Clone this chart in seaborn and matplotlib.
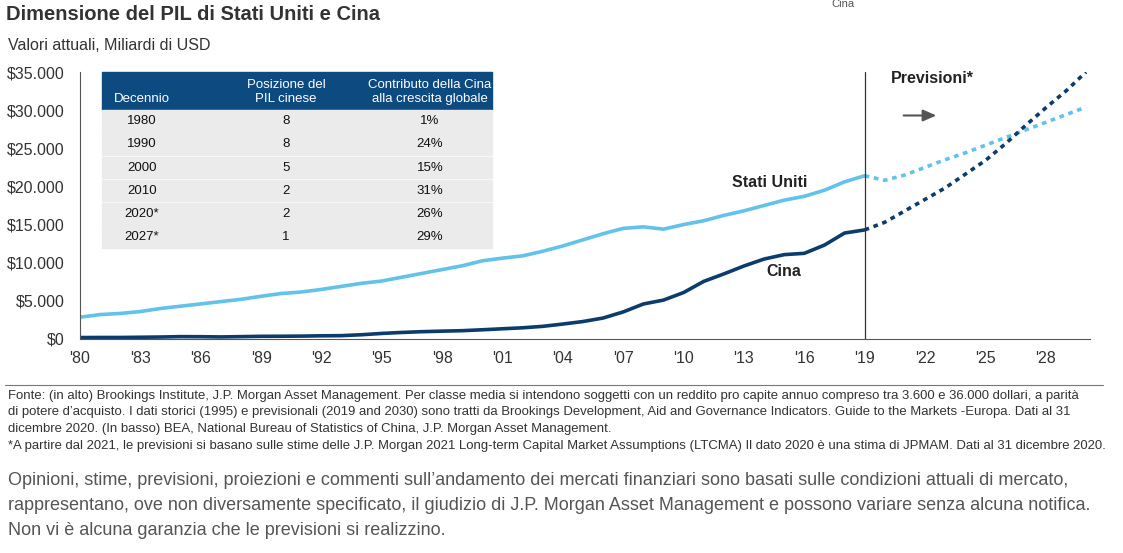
import numpy as np
import pandas as pd
import matplotlib.pyplot as plt
import matplotlib.patches as mpatches
import seaborn as sns

anni = list(range(1980, 2020))
usa = [2.86, 3.2, 3.35, 3.6, 4.0, 4.3, 4.6, 4.9, 5.2, 5.6, 5.96, 6.16, 6.5, 6.9, 7.3, 7.6,
       8.1, 8.6, 9.1, 9.6, 10.25, 10.6, 10.9, 11.5, 12.2, 13.0, 13.8, 14.5, 14.7, 14.4,
       15.0, 15.5, 16.2, 16.8, 17.5, 18.2, 18.7, 19.5, 20.6, 21.4]
cina = [0.19, 0.2, 0.2, 0.23, 0.26, 0.31, 0.3, 0.27, 0.31, 0.35, 0.36, 0.38, 0.42, 0.44,
        0.56, 0.73, 0.86, 0.96, 1.03, 1.09, 1.21, 1.34, 1.47, 1.66, 1.96, 2.29, 2.75, 3.55,
        4.59, 5.1, 6.09, 7.55, 8.53, 9.57, 10.48, 11.06, 11.23, 12.31, 13.89, 14.3]
anni_prev = list(range(2019, 2031))
usa_prev = [21.4, 20.8, 21.5, 22.5, 23.5, 24.4, 25.4, 26.4, 27.4, 28.4, 29.4, 30.4]
cina_prev = [14.3, 15.3, 16.8, 18.3, 19.8, 21.6, 23.4, 25.6, 28.0, 30.3, 32.5, 35.0]

tab_decennio = ["1980", "1990", "2000", "2010", "2020*", "2027*"]
tab_posizione = ["8", "8", "5", "2", "2", "1"]
tab_contributo = ["1%", "24%", "15%", "31%", "26%", "29%"]

C_USA = "#62c2ea"
C_CINA = "#0c3c6c"
C_HEAD = "#0d4a80"

sns.set_style("white")
plt.rcParams['font.family'] = ['Liberation Sans', 'DejaVu Sans']

W, H = 1123, 553
fig = plt.figure(figsize=(W / 100, H / 100), dpi=100)


def fx(px):
    return px / W


def fy(py):
    return 1 - py / H


ax = fig.add_axes([fx(80), fy(339), fx(1090) - fx(80), fy(72) - fy(339)])

storico = pd.DataFrame({"anno": anni * 2, "pil": [v * 1000 for v in usa + cina],
                        "paese": ["Stati Uniti"] * len(anni) + ["Cina"] * len(anni)})
prev = pd.DataFrame({"anno": anni_prev * 2, "pil": [v * 1000 for v in usa_prev + cina_prev],
                     "paese": ["Stati Uniti"] * len(anni_prev) + ["Cina"] * len(anni_prev)})
pal = {"Stati Uniti": C_USA, "Cina": C_CINA}
sns.lineplot(data=storico, x="anno", y="pil", hue="paese", palette=pal, lw=2.6, ax=ax, legend=False)
sns.lineplot(data=prev, x="anno", y="pil", hue="paese", palette=pal, lw=2.6, ax=ax, legend=False)
for ln in ax.lines[2:]:
    ln.set_linestyle((0, (1.3, 1.3)))

ax.set_xlim(1980, 2030.2)
ax.set_ylim(0, 35000)
ax.set_xlabel("")
ax.set_ylabel("")
ax.set_xticks(range(1980, 2030, 3))
ax.set_xticklabels(["'%02d" % (y % 100) for y in range(1980, 2030, 3)], fontsize=11.5, color="#333333")
ax.set_yticks(range(0, 35001, 5000))
ax.set_yticklabels(["$" + f"{v:,}".replace(",", ".") for v in range(0, 35001, 5000)],
                   fontsize=11.5, color="#333333")
ax.tick_params(axis="both", length=5, width=0.8, color="#555555", direction="out")
ax.tick_params(axis="y", pad=6)
ax.spines[["top", "right"]].set_visible(False)
ax.spines[["left", "bottom"]].set_color("#555555")
ax.axvline(2019, color="#333333", lw=0.9, ymin=0, ymax=1.0)
ax.text(2020.3, 33500, "Previsioni*", fontsize=11.5, fontweight="bold", color="#222222")
ax.annotate("", xy=(2022.7, 29300), xytext=(2020.8, 29300),
            arrowprops=dict(arrowstyle="-|>,head_width=0.35,head_length=0.8", color="#555555", lw=1.5))
ax.text(2014.3, 19900, "Stati Uniti", fontsize=11.5, fontweight="bold", color="#222222", ha="center")
ax.text(2015, 8300, "Cina", fontsize=11.5, fontweight="bold", color="#222222", ha="center")

# tabella
x0, x1 = 102, 492
cols = [142, 286, 430]
fig.patches.append(mpatches.Rectangle((fx(x0), fy(110)), fx(x1) - fx(x0), fy(72) - fy(110),
                                      transform=fig.transFigure, color=C_HEAD, zorder=5))
fig.text(fx(cols[0]), fy(99), "Decennio", color="white", fontsize=9.5, ha="center", va="center", zorder=6)
fig.text(fx(cols[1]), fy(92), "Posizione del\nPIL cinese", color="white", fontsize=9.5, ha="center",
         va="center", zorder=6, linespacing=1.15)
fig.text(fx(cols[2]), fy(92), "Contributo della Cina\nalla crescita globale", color="white", fontsize=9.5,
         ha="center", va="center", zorder=6, linespacing=1.15)
for i, (d, p, c) in enumerate(zip(tab_decennio, tab_posizione, tab_contributo)):
    top = 110 + i * 23.3
    fig.patches.append(mpatches.Rectangle((fx(x0), fy(top + 21.5)), fx(x1) - fx(x0), fy(top) - fy(top + 21.5),
                                          transform=fig.transFigure, color="#ebebeb", zorder=5))
    for cx, t in zip(cols, (d, p, c)):
        fig.text(fx(cx), fy(top + 11), t, fontsize=9.5, ha="center", va="center", color="#111111", zorder=6)

# testi
fig.text(fx(6), fy(14), "Dimensione del PIL di Stati Uniti e Cina", fontsize=14.5, fontweight="bold",
         color="#333333", va="center")
fig.text(fx(8), fy(46), "Valori attuali, Miliardi di USD", fontsize=11.5, color="#333333", va="center")
fig.text(fx(843), fy(4), "Cina", fontsize=8, color="#555555", ha="center", va="center")
fig.add_artist(plt.Line2D([fx(5), fx(1103)], [fy(385), fy(385)], color="#777777", lw=0.8))
note = ("Fonte: (in alto) Brookings Institute, J.P. Morgan Asset Management. Per classe media si intendono soggetti con un reddito pro capite annuo compreso tra 3.600 e 36.000 dollari, a parità\n"
        "di potere d’acquisto. I dati storici (1995) e previsionali (2019 and 2030) sono tratti da Brookings Development, Aid and Governance Indicators. Guide to the Markets -Europa. Dati al 31\n"
        "dicembre 2020. (In basso) BEA, National Bureau of Statistics of China, J.P. Morgan Asset Management.\n"
        "*A partire dal 2021, le previsioni si basano sulle stime delle J.P. Morgan 2021 Long-term Capital Market Assumptions (LTCMA) Il dato 2020 è una stima di JPMAM. Dati al 31 dicembre 2020.")
fig.text(fx(8), fy(390), note, fontsize=9.45, color="#333333", va="top", linespacing=1.5)
disc = ("Opinioni, stime, previsioni, proiezioni e commenti sull’andamento dei mercati finanziari sono basati sulle condizioni attuali di mercato,\n"
        "rappresentano, ove non diversamente specificato, il giudizio di J.P. Morgan Asset Management e possono variare senza alcuna notifica.\n"
        "Non vi è alcuna garanzia che le previsioni si realizzino.")
fig.text(fx(8), fy(472), disc, fontsize=13, color="#555555", va="top", linespacing=1.6)

fig.savefig("out.png", dpi=100)
